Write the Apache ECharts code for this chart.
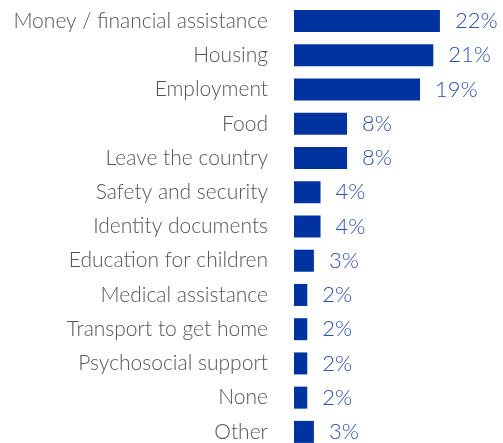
<!DOCTYPE html>
<html>
<head>
<meta charset="utf-8">
<script src="https://cdn.jsdelivr.net/npm/echarts@6/dist/echarts.min.js"></script>
<style>
  html, body { margin: 0; padding: 0; background: #fff; }
  #chart { width: 503px; height: 443px; }
</style>
</head>
<body>
<div id="chart"></div>
<script>
// Most needed kinds of support, share of respondents (%)
const categories = [
  'Money / financial assistance',
  'Housing',
  'Employment',
  'Food',
  'Leave the country',
  'Safety and security',
  'Identity documents',
  'Education for children',
  'Medical assistance',
  'Transport to get home',
  'Psychosocial support',
  'None',
  'Other'
];
const shares = [22, 21, 19, 8, 8, 4, 4, 3, 2, 2, 2, 2, 3];

const chart = echarts.init(document.getElementById('chart'), null, { renderer: 'canvas' });
chart.setOption({
  animation: false,
  grid: {
    left: 294, top: 4, width: 199, height: 445,
    containLabel: false,
    outerBoundsMode: 'none'
  },
  xAxis: {
    type: 'value', min: 0, max: 30,
    show: false
  },
  yAxis: {
    type: 'category',
    data: categories,
    inverse: true,
    axisLine: { show: false },
    axisTick: { show: false },
    splitLine: { show: false },
    axisLabel: {
      margin: 26,
      color: '#555555',
      fontFamily: 'Lato',
      fontWeight: 300,
      fontSize: 21
    }
  },
  series: [{
    type: 'bar',
    data: shares,
    barWidth: 22,
    itemStyle: { color: '#0033a0' },
    label: {
      show: true,
      position: 'right',
      distance: 15,
      formatter: '{c}%',
      color: '#2d51b3',
      fontFamily: 'Lato',
      fontWeight: 300,
      fontSize: 22
    }
  }]
});
</script>
</body>
</html>
